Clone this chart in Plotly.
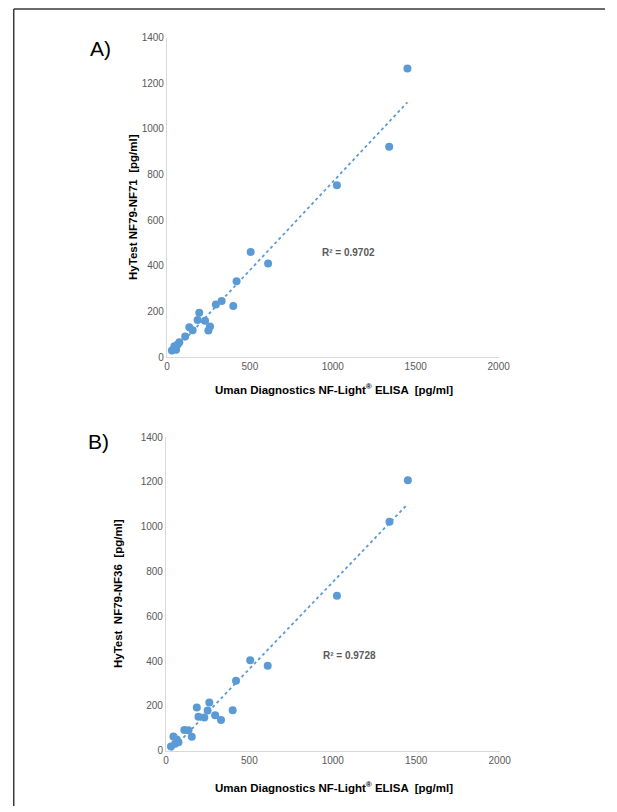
import numpy as np
import plotly.graph_objects as go

W, H = 617, 812

# Shared reference ELISA values (pg/ml)
elisa = [30, 45, 55, 65, 75, 110, 135, 155, 185, 195, 230, 250, 260, 295, 330, 400, 420, 505, 610, 1025, 1340, 1450]
# Panel A: HyTest NF79-NF71
nf71 = [29, 48, 33, 55, 65, 91, 131, 118, 163, 194, 160, 117, 134, 231, 246, 224, 332, 461, 410, 753, 922, 1264]
# Panel B: HyTest NF79-NF36
nf36 = [19, 64, 31, 50, 38, 93, 92, 63, 193, 152, 149, 180, 215, 158, 137, 181, 313, 404, 379, 692, 1022, 1207]

x_ticks = [0, 500, 1000, 1500, 2000]
y_ticks = [0, 200, 400, 600, 800, 1000, 1200, 1400]
r2_labels = ["R² = 0.9702", "R² = 0.9728"]

BLUE = "#5b9bd5"
GRAY = "#595959"
FONT = "Liberation Sans, Arial, sans-serif"

def px(x):
    return x / W

def py(y):
    return 1 - y / H

fig = go.Figure()

panels = [
    dict(y=nf71, xa="x", ya="y", xdom=[px(168), px(508)], ydom=[py(357), py(33)]),
    dict(y=nf36, xa="x2", ya="y2", xdom=[px(167), px(509)], ydom=[py(756), py(438)]),
]

for p in panels:
    xs = np.array(elisa, dtype=float)
    ys = np.array(p["y"], dtype=float)
    m, b = np.polyfit(xs, ys, 1)
    xl = np.array([xs.min(), xs.max()])
    fig.add_trace(go.Scatter(x=xl, y=m * xl + b, mode="lines",
                             line=dict(color=BLUE, width=1.8, dash="dot"),
                             xaxis=p["xa"], yaxis=p["ya"], hoverinfo="skip", showlegend=False))
    fig.add_trace(go.Scatter(x=elisa, y=p["y"], mode="markers",
                             marker=dict(color=BLUE, size=8, line=dict(width=0)),
                             xaxis=p["xa"], yaxis=p["ya"], showlegend=False))

axis_common = dict(showgrid=False, zeroline=False, showline=True, linecolor="#d9d9d9", linewidth=1,
                   ticks="", tickfont=dict(family=FONT, size=10, color=GRAY))

fig.update_layout(
    width=W, height=H, autosize=False,
    margin=dict(l=0, r=0, t=0, b=0),
    paper_bgcolor="white", plot_bgcolor="white",
    font=dict(family=FONT),
    xaxis=dict(domain=panels[0]["xdom"], anchor="y", range=[0, 2000], tickvals=x_ticks, **axis_common),
    yaxis=dict(domain=panels[0]["ydom"], anchor="x", range=[0, 1400], tickvals=y_ticks, **axis_common),
    xaxis2=dict(domain=panels[1]["xdom"], anchor="y2", range=[0, 2000], tickvals=x_ticks, **axis_common),
    yaxis2=dict(domain=panels[1]["ydom"], anchor="x2", range=[0, 1400], tickvals=y_ticks, **axis_common),
)

ann = []
# Panel letters
ann.append(dict(text="A)", x=px(100), y=py(44), font=dict(size=21, color="black", family=FONT)))
ann.append(dict(text="B)", x=px(98), y=py(443), font=dict(size=21, color="black", family=FONT)))
# Axis titles
xt = "Uman Diagnostics NF-Light<sup>®</sup> ELISA  [pg/ml]"
ann.append(dict(text=xt, x=px(339), y=py(389), font=dict(size=11.5, color="black", family=FONT)))
ann.append(dict(text=xt, x=px(339), y=py(793), font=dict(size=11.5, color="black", family=FONT)))
ann.append(dict(text="HyTest NF79-NF71  [pg/ml]", x=px(133), y=py(205), textangle=-90,
                font=dict(size=11.5, color="black", family=FONT)))
ann.append(dict(text="HyTest  NF79-NF36  [pg/ml]", x=px(118), y=py(597), textangle=-90,
                font=dict(size=11.5, color="black", family=FONT)))
# R² labels
ann.append(dict(text="<b>" + r2_labels[0] + "</b>", x=px(354), y=py(251), font=dict(size=10, color=GRAY, family=FONT)))
ann.append(dict(text="<b>" + r2_labels[1] + "</b>", x=px(355), y=py(659), font=dict(size=10, color=GRAY, family=FONT)))

for a in ann:
    a.update(xref="paper", yref="paper", showarrow=False, xanchor="center", yanchor="middle")
    if "HyTest" in a["text"] or "Uman" in a["text"]:
        a["text"] = "<b>" + a["text"] + "</b>"
fig.update_layout(annotations=ann)

# Frame lines (top and left)
fig.add_shape(type="line", xref="paper", yref="paper", x0=px(11), x1=1, y0=py(4), y1=py(4),
              line=dict(color="#3a3a3a", width=1.5))
fig.add_shape(type="line", xref="paper", yref="paper", x0=px(11), x1=px(11), y0=py(4), y1=0,
              line=dict(color="#3a3a3a", width=1.5))

fig.write_html("out.html",
               config={"responsive": False, "displayModeBar": False},
               default_width="617px", default_height="812px",
               post_script=("document.documentElement.style.overflow='hidden';"
                            "document.body.style.margin='0';"
                            "document.body.style.padding='0';"
                            "document.body.style.overflow='hidden';"))
